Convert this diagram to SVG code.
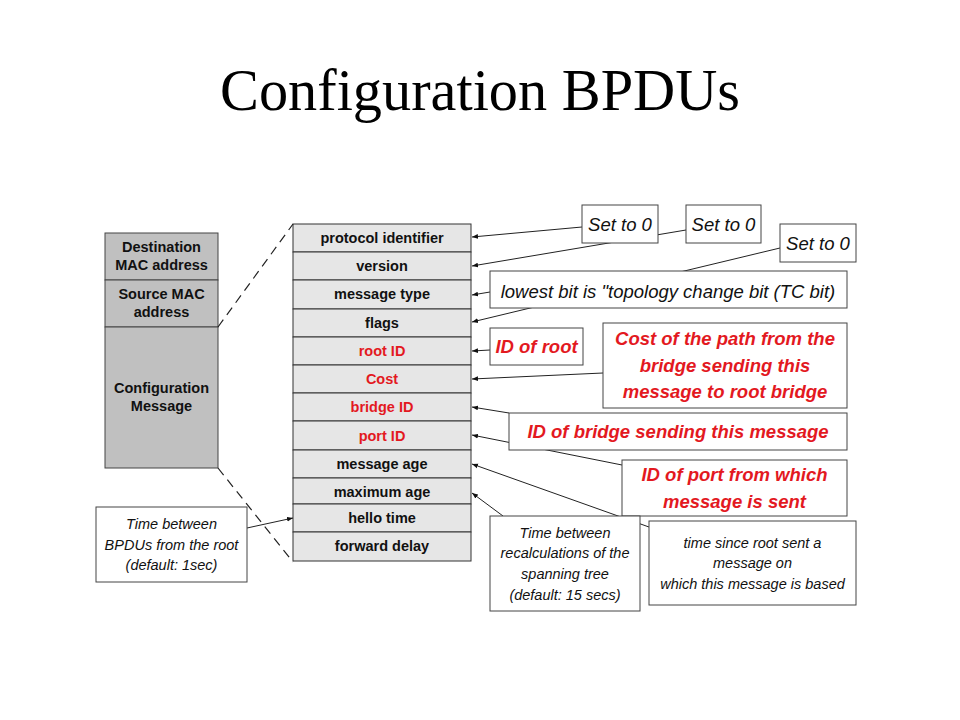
<svg xmlns="http://www.w3.org/2000/svg" width="960" height="720" viewBox="0 0 960 720">
<defs>
<marker id="ah" viewBox="0 0 10 10" refX="10" refY="5" markerWidth="6" markerHeight="6" orient="auto" markerUnits="userSpaceOnUse">
<path d="M0,1 L10,5 L0,9 z" fill="#111"/>
</marker>
<style>
.title{font-family:"Liberation Serif","Times New Roman",serif;font-size:59px;fill:#000}
.hdr{fill:#c0c0c0;stroke:#444;stroke-width:1}
.fld{fill:#e6e6e6;stroke:#333;stroke-width:1}
.ft{font-family:"Liberation Sans",Arial,sans-serif;font-size:14.5px;font-weight:bold;fill:#111;text-anchor:middle}
.red{fill:#e3191f}
.box{fill:#fff;stroke:#444;stroke-width:1}
.ci{font-family:"Liberation Sans",Arial,sans-serif;font-size:18.5px;font-style:italic;fill:#111;text-anchor:middle}
.cr{font-family:"Liberation Sans",Arial,sans-serif;font-size:18.5px;font-style:italic;font-weight:bold;fill:#e3191f;text-anchor:middle}
.cs{font-family:"Liberation Sans",Arial,sans-serif;font-size:14.5px;font-style:italic;fill:#111;text-anchor:middle}
.cn{fill:none;stroke:#222;stroke-width:1;marker-end:url(#ah)}
.dash{fill:none;stroke:#222;stroke-width:1.2;stroke-dasharray:9,6}
</style>
</defs>
<rect width="960" height="720" fill="#fff"/>
<text class="title" x="220" y="110" textLength="520" lengthAdjust="spacingAndGlyphs">Configuration BPDUs</text>

<g id="frame">
<rect class="hdr" x="105" y="233" width="113" height="47"/>
<text class="ft" x="161.5" y="252">Destination</text>
<text class="ft" x="161.5" y="270">MAC address</text>
<rect class="hdr" x="105" y="280" width="113" height="47"/>
<text class="ft" x="161.5" y="299">Source MAC</text>
<text class="ft" x="161.5" y="317">address</text>
<rect class="hdr" x="105" y="327" width="113" height="141"/>
<text class="ft" x="161.5" y="393">Configuration</text>
<text class="ft" x="161.5" y="411">Message</text>
</g>

<g id="bpdu">
<rect class="fld" x="293" y="224" width="178" height="28"/><text class="ft" x="382" y="243">protocol identifier</text>
<rect class="fld" x="293" y="252" width="178" height="28"/><text class="ft" x="382" y="271">version</text>
<rect class="fld" x="293" y="280" width="178" height="29"/><text class="ft" x="382" y="299">message type</text>
<rect class="fld" x="293" y="309" width="178" height="28"/><text class="ft" x="382" y="328">flags</text>
<rect class="fld" x="293" y="337" width="178" height="28"/><text class="ft red" x="382" y="356">root ID</text>
<rect class="fld" x="293" y="365" width="178" height="28"/><text class="ft red" x="382" y="384">Cost</text>
<rect class="fld" x="293" y="393" width="178" height="28"/><text class="ft red" x="382" y="412">bridge ID</text>
<rect class="fld" x="293" y="421" width="178" height="29"/><text class="ft red" x="382" y="441">port ID</text>
<rect class="fld" x="293" y="450" width="178" height="28"/><text class="ft" x="382" y="469">message age</text>
<rect class="fld" x="293" y="478" width="178" height="26"/><text class="ft" x="382" y="497">maximum age</text>
<rect class="fld" x="293" y="504" width="178" height="28"/><text class="ft" x="382" y="523">hello time</text>
<rect class="fld" x="293" y="532" width="178" height="29"/><text class="ft" x="382" y="551">forward delay</text>
</g>

<g id="connectors">
<path class="dash" d="M218,327 L293,224"/>
<path class="dash" d="M218,468 L293,562"/>
<path class="cn" d="M582,227 L472,237"/>
<path class="cn" d="M686,230 L472,266"/>
<path class="cn" d="M780,248 L472,322"/>
<path class="cn" d="M490,292 L472,295"/>
<path class="cn" d="M490,350 L472,351"/>
<path class="cn" d="M603,373 L472,379"/>
<path class="cn" d="M509,413 L472,407"/>
<path class="cn" d="M622,465 L472,435"/>
<path class="cn" d="M649,527 L472,464"/>
<path class="cn" d="M503,516 L472,493"/>
<path class="cn" d="M247,528 L293,518"/>
</g>

<g id="note-set0-a"><rect class="box" x="582" y="205" width="76" height="38"/><text class="ci" x="620" y="231">Set to 0</text></g>
<g id="note-set0-b"><rect class="box" x="686" y="205" width="75" height="38"/><text class="ci" x="723.5" y="231">Set to 0</text></g>
<g id="note-set0-c"><rect class="box" x="780" y="224" width="76" height="38"/><text class="ci" x="818" y="250">Set to 0</text></g>
<g id="note-flags"><rect class="box" x="490" y="271" width="357" height="37"/><text class="ci" x="668" y="298">lowest bit is "topology change bit (TC bit)</text></g>
<g id="note-root"><rect class="box" x="490" y="328" width="93" height="37"/><text class="cr" x="536.5" y="353">ID of root</text></g>
<g id="note-cost"><rect class="box" x="603" y="323" width="244" height="85"/>
<text class="cr" x="725" y="345">Cost of the path from the</text>
<text class="cr" x="725" y="372">bridge sending this</text>
<text class="cr" x="725" y="398">message to root bridge</text></g>
<g id="note-bridge"><rect class="box" x="509" y="413" width="338" height="37"/><text class="cr" x="678" y="438">ID of bridge sending this message</text></g>
<g id="note-port"><rect class="box" x="622" y="460" width="225" height="56"/>
<text class="cr" x="734.5" y="481">ID of port from which</text>
<text class="cr" x="734.5" y="508">message is sent</text></g>
<g id="note-age"><rect class="box" x="649" y="521" width="207" height="84"/>
<text class="cs" x="752.5" y="548">time since root sent a</text>
<text class="cs" x="752.5" y="568">message on</text>
<text class="cs" x="752.5" y="589">which this message is based</text></g>
<g id="note-maxage"><rect class="box" x="490" y="516" width="150" height="95"/>
<text class="cs" x="565" y="538">Time between</text>
<text class="cs" x="565" y="558">recalculations of the</text>
<text class="cs" x="565" y="579">spanning tree</text>
<text class="cs" x="565" y="600">(default: 15 secs)</text></g>
<g id="note-hello"><rect class="box" x="96" y="507" width="151" height="75"/>
<text class="cs" x="171.5" y="529">Time between</text>
<text class="cs" x="171.5" y="550">BPDUs from the root</text>
<text class="cs" x="171.5" y="570">(default: 1sec)</text></g>
</svg>
